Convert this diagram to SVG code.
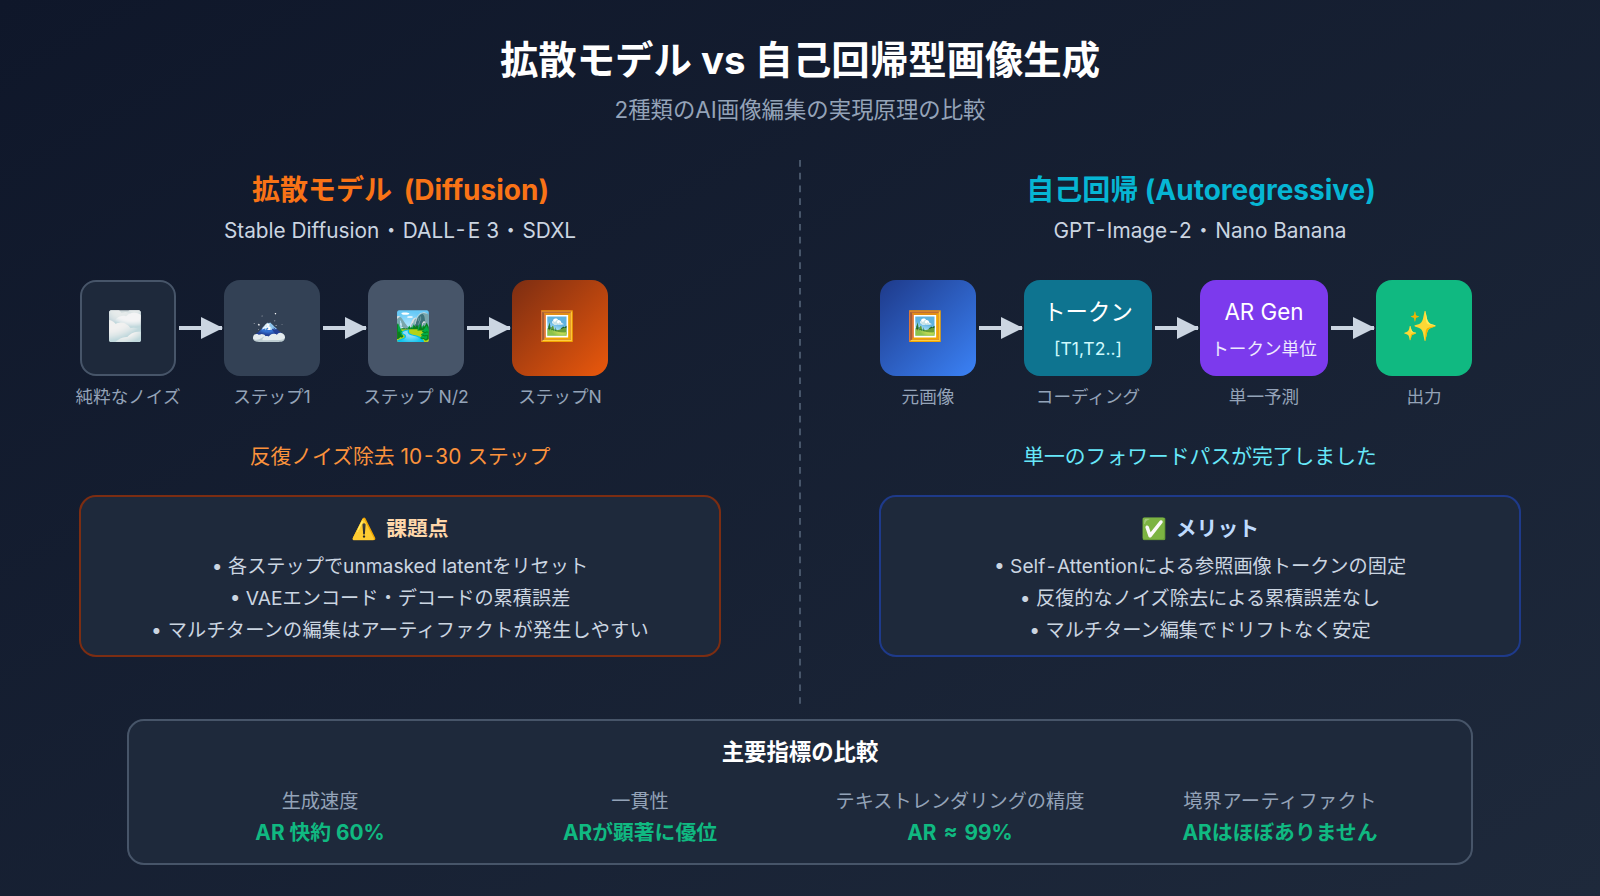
<svg xmlns="http://www.w3.org/2000/svg" width="1600" height="896" viewBox="0 0 1600 896">
<defs>
<linearGradient id="bg" x1="0" y1="0" x2="1" y2="1"><stop offset="0" stop-color="#0f172a"/><stop offset="1" stop-color="#1e293b"/></linearGradient>
<linearGradient id="orange" x1="0" y1="0" x2="1" y2="1"><stop offset="0" stop-color="#7c2d12"/><stop offset="1" stop-color="#ea580c"/></linearGradient>
<linearGradient id="blue" x1="0" y1="0" x2="1" y2="1"><stop offset="0" stop-color="#1e3a8a"/><stop offset="1" stop-color="#3b82f6"/></linearGradient>
<marker id="arrow" markerUnits="userSpaceOnUse" markerWidth="22" markerHeight="22" refX="21" refY="11" orient="auto"><path d="M0 0L22 11L0 22Z" fill="#cbd5e1"/></marker>
</defs>
<style>
text{font-family:"Inter","Noto Sans CJK JP","Noto Color Emoji",sans-serif;text-anchor:middle}
.b{font-weight:700}
.lab{font-size:17.6px;fill:#94a3b8}
.line{font-size:19.2px;fill:#cbd5e1}
.ml{font-size:19.2px;fill:#94a3b8}
.mv{font-size:20.8px;fill:#10b981;font-weight:700}
.em{font-size:28.8px}
.sub{font-size:20.8px;fill:#cbd5e1}
.big{font-size:22.4px;fill:#fff}
.conn{stroke:#cbd5e1;stroke-width:4;fill:none;marker-end:url(#arrow)}
</style>
<rect width="1600" height="896" fill="url(#bg)"/>
<text class="b" x="800" y="74" font-size="38.4" fill="#fff">拡散モデル vs 自己回帰型画像生成</text>
<text x="800" y="118" font-size="22.4" fill="#94a3b8">2種類のAI画像編集の実現原理の比較</text>
<line x1="800" y1="160" x2="800" y2="704" stroke="#475569" stroke-width="2" stroke-dasharray="6.67 6.12"/>
<text class="b" x="400.5" y="200" font-size="28" fill="#f97316" word-spacing="5">拡散モデル (Diffusion)</text>
<text class="sub" x="400" y="237.5">Stable Diffusion<tspan word-spacing="-4.5"> ・ </tspan>DALL<tspan dx="2.5">-</tspan><tspan dx="2.5">E</tspan> 3<tspan word-spacing="-4.5"> ・ </tspan>SDXL</text>
<text class="b" x="1201" y="200" font-size="28" fill="#06b6d4">自己回帰 (Autoregressive)</text>
<text class="sub" x="1200" y="237.5">GPT<tspan dx="1.5">-</tspan><tspan dx="1.5">I</tspan>mage<tspan dx="1.5">-</tspan><tspan dx="1.5">2</tspan><tspan word-spacing="-4.5"> ・ </tspan>Nano Banana</text>
<g id="connectors">
<path class="conn" d="M179 328H222"/><path class="conn" d="M323 328H366"/><path class="conn" d="M467 328H510"/>
<path class="conn" d="M979 328H1022"/><path class="conn" d="M1155 328H1198"/><path class="conn" d="M1331 328H1374"/>
</g>
<g id="n-noise"><rect x="81" y="281" width="94" height="94" rx="15" fill="#1e293b" stroke="#475569" stroke-width="2"/><text class="em" x="125" y="336">🌫️</text><text class="lab" x="128" y="403">純粋なノイズ</text></g>
<g id="n-step1"><rect x="224" y="280" width="96" height="96" rx="16" fill="#334155"/><text class="em" x="269" y="336">🗻</text><text class="lab" x="272" y="403">ステップ1</text></g>
<g id="n-stepmid"><rect x="368" y="280" width="96" height="96" rx="16" fill="#475569"/><text class="em" x="413" y="336">🏞️</text><text class="lab" x="416" y="403">ステップ N/2</text></g>
<g id="n-stepn"><rect x="512" y="280" width="96" height="96" rx="16" fill="url(#orange)"/><text class="em" x="557" y="336">🖼️</text><text class="lab" x="560" y="403">ステップN</text></g>
<g id="n-src"><rect x="880" y="280" width="96" height="96" rx="16" fill="url(#blue)"/><text class="em" x="925" y="336">🖼️</text><text class="lab" x="928" y="403">元画像</text></g>
<g id="n-token"><rect x="1024" y="280" width="128" height="96" rx="16" fill="#0e7490"/><text class="big" x="1088" y="320">トークン</text><text x="1088" y="355" font-size="17.6" fill="#cffafe">[T1,T2..]</text><text class="lab" x="1088" y="403">コーディング</text></g>
<g id="n-ar"><rect x="1200" y="280" width="128" height="96" rx="16" fill="#7c3aed"/><text class="big" x="1264" y="320">AR Gen</text><text x="1264" y="355" font-size="17.6" fill="#ede9fe">トークン単位</text><text class="lab" x="1264" y="403">単一予測</text></g>
<g id="n-out"><rect x="1376" y="280" width="96" height="96" rx="16" fill="#10b981"/><text class="em" x="1420" y="336">✨</text><text class="lab" x="1424" y="403">出力</text></g>
<text x="400" y="463.5" font-size="20.8" fill="#fb923c">反復ノイズ除去 10<tspan dx="2">-</tspan><tspan dx="2">3</tspan>0 ステップ</text>
<text x="1200" y="463.5" font-size="20.8" fill="#67e8f9">単一のフォワードパスが完了しました</text>
<g id="box-issues"><rect x="80" y="496" width="640" height="160" rx="16" fill="#1e293b" stroke="#7c2d12" stroke-width="2"/>
<text class="b" x="400" y="536" font-size="20.8" fill="#fed7aa" word-spacing="4">⚠️ 課題点</text>
<text class="line" x="400" y="573">• 各ステップでunmasked latentをリセット</text>
<text class="line" x="400" y="605">• VAEエンコード・デコードの累積誤差</text>
<text class="line" x="400" y="637" letter-spacing=".2">• マルチターンの編集はアーティファクトが発生しやすい</text></g>
<g id="box-merits"><rect x="880" y="496" width="640" height="160" rx="16" fill="#1e293b" stroke="#1e3a8a" stroke-width="2"/>
<text class="b" x="1200" y="536" font-size="20.8" fill="#bfdbfe" word-spacing="4">✅ メリット</text>
<text class="line" x="1200" y="573">• Self<tspan dx="2">-</tspan><tspan dx="2">A</tspan>ttentionによる参照画像トークンの固定</text>
<text class="line" x="1200" y="605">• 反復的なノイズ除去による累積誤差なし</text>
<text class="line" x="1200" y="637">• マルチターン編集でドリフトなく安定</text></g>
<g id="metrics"><rect x="128" y="720" width="1344" height="144" rx="16" fill="#1e293b" stroke="#475569" stroke-width="2"/>
<text class="b" x="800" y="760" font-size="22.4" fill="#fff">主要指標の比較</text>
<text class="ml" x="320" y="808">生成速度</text><text class="mv" x="320" y="840">AR 快約 60%</text>
<text class="ml" x="640" y="808">一貫性</text><text class="mv" x="640" y="840">ARが顕著に優位</text>
<text class="ml" x="960" y="808">テキストレンダリングの精度</text><text class="mv" x="960" y="840" word-spacing="2">AR ≈ 99%</text>
<text class="ml" x="1280" y="808" letter-spacing=".4">境界アーティファクト</text><text class="mv" x="1280" y="840">ARはほぼありません</text></g>
</svg>
